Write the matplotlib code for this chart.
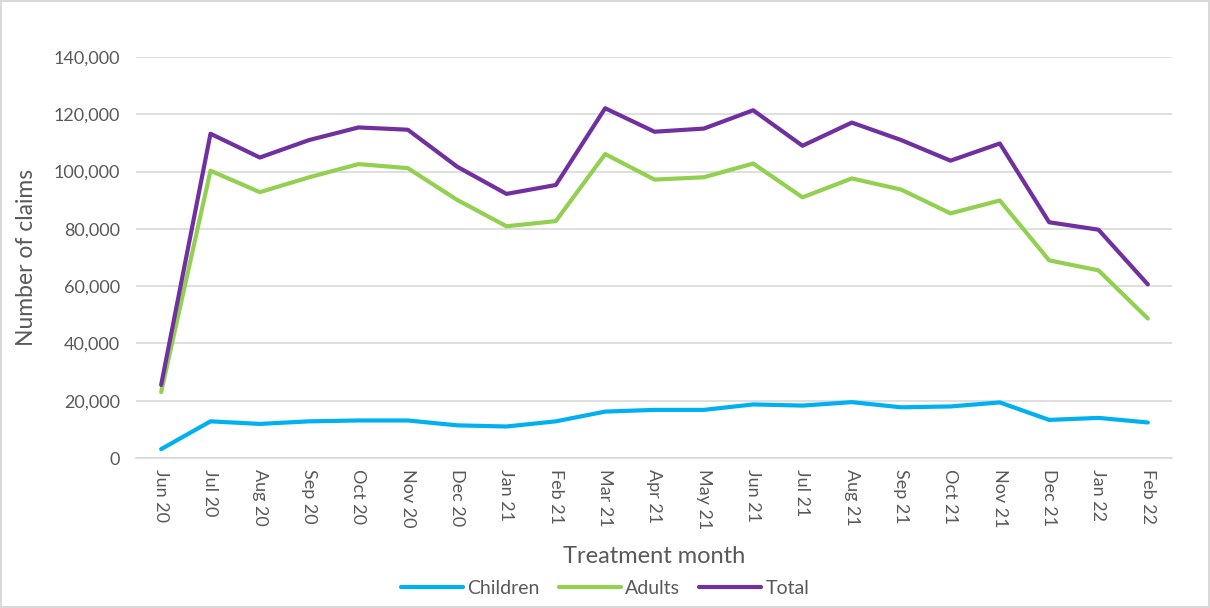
import matplotlib
matplotlib.use("Agg")
import matplotlib.pyplot as plt
from matplotlib.ticker import FuncFormatter, MultipleLocator

months = ["Jun 20", "Jul 20", "Aug 20", "Sep 20", "Oct 20", "Nov 20", "Dec 20",
          "Jan 21", "Feb 21", "Mar 21", "Apr 21", "May 21", "Jun 21", "Jul 21",
          "Aug 21", "Sep 21", "Oct 21", "Nov 21", "Dec 21", "Jan 22", "Feb 22"]
children = [3100, 12800, 11900, 12800, 13100, 13100, 11400, 11000, 12800, 16200,
            16800, 16800, 18700, 18300, 19500, 17700, 18000, 19400, 13300, 14000, 12400]
adults = [23000, 100300, 92800, 98000, 102600, 101200, 90100, 80900, 82700, 106100,
          97200, 98000, 102800, 91000, 97600, 93700, 85400, 89900, 69000, 65500, 48700]
total = [25500, 113200, 104900, 111000, 115400, 114600, 101700, 92200, 95300, 122100,
         113900, 115000, 121400, 109000, 117100, 111000, 103800, 109800, 82300, 79700, 60600]

plt.rcParams['font.family'] = ['Lato', 'DejaVu Sans']

fig = plt.figure(figsize=(12.1, 6.08), dpi=100)
fig.patch.set_edgecolor('#d9d9d9')
fig.patch.set_linewidth(1.5)
ax = fig.add_axes([0.1128, 0.2467, 0.8562, 0.6596])

x = list(range(len(months)))
lw = 3.0
ax.plot(x, children, color='#00B0F0', lw=lw, label='Children', solid_capstyle='round', solid_joinstyle='round')
ax.plot(x, adults, color='#92D050', lw=lw, label='Adults', solid_capstyle='round', solid_joinstyle='round')
ax.plot(x, total, color='#7030A0', lw=lw, label='Total', solid_capstyle='round', solid_joinstyle='round')

ax.set_xlim(-0.5, len(months) - 0.5)
ax.set_ylim(0, 140000)
ax.yaxis.set_major_locator(MultipleLocator(20000))
ax.yaxis.set_major_formatter(FuncFormatter(lambda v, p: f"{int(v):,}"))
ax.grid(axis='y', color='#d9d9d9', lw=1.2)
ax.set_axisbelow(True)
for s in ['top', 'right', 'left']:
    ax.spines[s].set_visible(False)
ax.spines['bottom'].set_color('#d9d9d9')
ax.spines['bottom'].set_linewidth(1.2)

ax.set_xticks(x)
ax.set_xticklabels(months, rotation=270, fontsize=13, color='#595959')
ax.tick_params(axis='both', length=0, labelsize=13, colors='#595959', pad=8)
ax.tick_params(axis='y', pad=12)

ax.set_ylabel('Number of claims', fontsize=16.5, color='#595959', labelpad=12)
ax.set_xlabel('Treatment month', fontsize=17, color='#595959', labelpad=12)

leg = fig.legend(loc='lower center', bbox_to_anchor=(0.5, -0.01), ncol=3, frameon=False,
                 fontsize=14, handlelength=3.2, columnspacing=1.0, handletextpad=0.2)
for t in leg.get_texts():
    t.set_color('#595959')

fig.savefig('out.png', dpi=100)
